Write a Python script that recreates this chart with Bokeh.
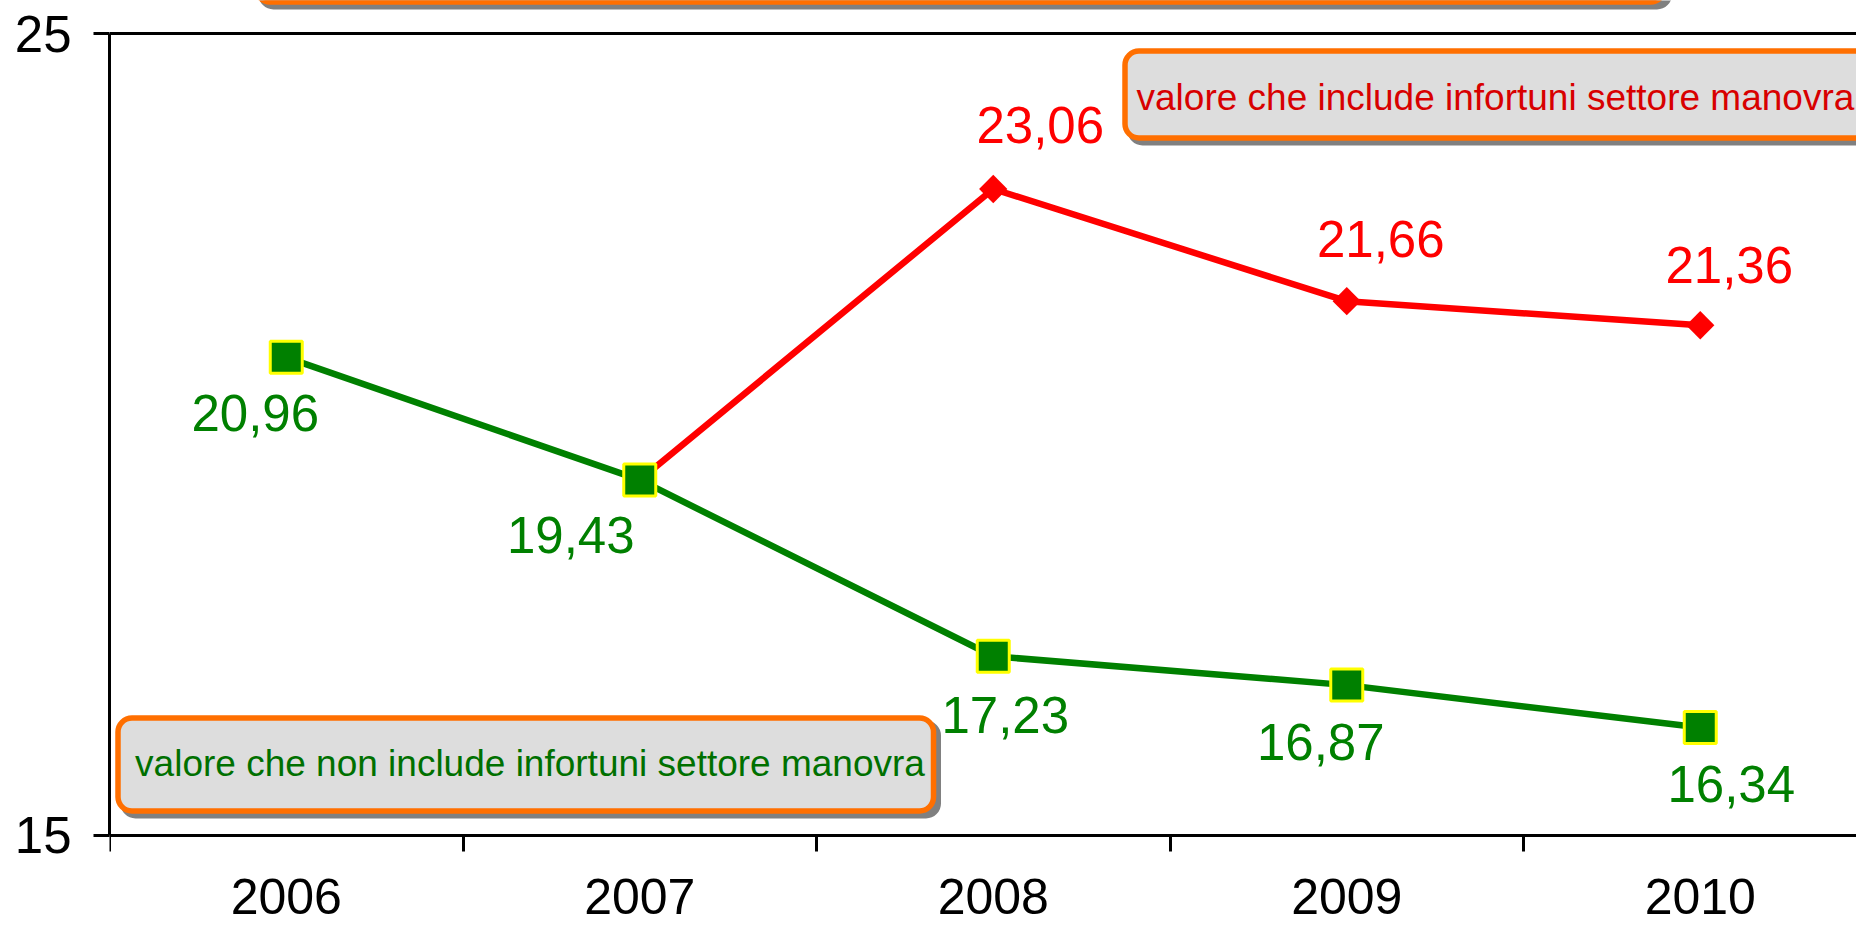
import math
from bokeh.plotting import figure
from bokeh.models import ColumnDataSource, Range1d, LinearAxis, FixedTicker, BoxAnnotation, Label, Span
from bokeh.core.properties import value
from bokeh.embed import file_html
from bokeh.resources import INLINE

# ---------------- data ----------------
years = [2006, 2007, 2008, 2009, 2010]
year_labels = ["2006", "2007", "2008", "2009", "2010"]
green_values = [20.96, 19.43, 17.23, 16.87, 16.34]      # non include settore manovra
red_years = [2007, 2008, 2009, 2010]
red_values = [19.43, 23.06, 21.66, 21.36]               # include settore manovra
y_ticks = [15, 25]
green_box_text = "valore che non include infortuni settore manovra"
red_box_text = "valore che include infortuni settore manovra"

# label offsets in screen pixels (style)
green_dx = [-31, -69, 12, -26, 31]
green_dy = [56, 55, 59, 57, 56]
red_dx = [47, 34, 29]
red_dy = [-64, -62, -60]


def fmt(v):
    return f"{v:.2f}".replace(".", ",")


# ---------------- layout ----------------
FONT = "Liberation Sans"
W, H = 1856, 926
LEFT, TOP = 109, 33          # position of (x_start, 25) inside the figure
PX_X, PX_Y = 353.5, 80.15    # pixels per data unit
x_start = years[0] - 0.5
x_end = x_start + (W - LEFT) / PX_X
y_max = 25
y_range_top = y_max + TOP / PX_Y
y_bottom = y_max - (H - TOP) / PX_Y


def FX(px):  # figure pixel -> data x
    return x_start + (px - LEFT) / PX_X


def FY(py):  # figure pixel -> data y
    return y_max - (py - TOP) / PX_Y


p = figure(width=W, height=H, x_range=Range1d(x_start, x_end),
           y_range=Range1d(y_bottom, y_range_top),
           x_axis_location=None, y_axis_location="left",
           toolbar_location=None, output_backend="svg",
           min_border_left=LEFT, min_border_top=0, min_border_bottom=0, min_border_right=0,
           background_fill_color="white", border_fill_color="white", outline_line_color=None)
p.grid.grid_line_color = None

# y axis
ya = p.yaxis[0]
ya.ticker = FixedTicker(ticks=y_ticks)
ya.bounds = (15, 25)
ya.major_tick_out = 16
ya.major_tick_in = 0
ya.minor_tick_out = 0
ya.minor_tick_in = 0
ya.axis_line_width = 3
ya.major_tick_line_width = 3
ya.major_label_text_font = FONT
ya.major_label_text_font_size = "51px"
ya.major_label_text_color = "black"
ya.major_label_standoff = 22

# x axis: year labels at centres, boundary ticks as minor ticks
bounds_ticks = [y - 0.5 for y in years] + [years[-1] + 0.5]
ax = LinearAxis(fixed_location=15, ticker=FixedTicker(ticks=years, minor_ticks=bounds_ticks),
                major_label_overrides={y: l for y, l in zip(years, year_labels)},
                major_tick_out=0, major_tick_in=0, minor_tick_out=16, minor_tick_in=0,
                minor_tick_line_width=3, minor_tick_line_color="black",
                axis_line_width=3,
                major_label_text_font=FONT, major_label_text_font_size="50px",
                major_label_text_color="black", major_label_standoff=28)
p.add_layout(ax, "below")

# top line of the plot area
p.add_layout(Span(location=y_max, dimension="width", line_color="black", line_width=3))


# ---------------- annotation boxes ----------------
def add_box(l, r, t, b, fill, radius=15):
    sh = 5
    p.add_layout(BoxAnnotation(left=FX(l - 2.5 + sh), right=FX(r + 2.5 + sh),
                               top=FY(t - 2.5 + sh), bottom=FY(b + 2.5 + sh),
                               fill_color="#808080", fill_alpha=1, line_color=None,
                               border_radius=radius, level="underlay"))
    p.add_layout(BoxAnnotation(left=FX(l), right=FX(r), top=FY(t), bottom=FY(b),
                               fill_color=fill, fill_alpha=1, line_color="#FF6F00",
                               line_alpha=1, line_width=5.5, border_radius=radius - 1,
                               level="underlay"))


def add_text(text, tx, ty, align, color):
    p.add_layout(Label(x=FX(tx), y=FY(ty), text=text, text_align=align, text_baseline="middle",
                       text_font=FONT, text_font_size="37px", text_color=color))


# title box (mostly above the visible area)
add_box(255.5, 1664, -60, 1.5, "#FF6F00")

add_box(117.5, 933, 717.5, 810.5, "#DDDDDD")
add_text(green_box_text, 529.5, 763, "center", "#007000")
add_box(1124.5, 1990, 50.5, 137.5, "#DDDDDD")
add_text(red_box_text, 1136, 97, "left", "#D80000")

# ---------------- series ----------------
p.line(years, green_values, line_color="#008000", line_width=6.5)
p.line(red_years, red_values, line_color="#FF0000", line_width=6.5)
p.scatter(red_years[1:], red_values[1:], marker="square", angle=math.pi / 4, size=20,
          fill_color="#FF0000", line_color=None)
p.scatter(years, green_values, marker="square", size=32, fill_color="#008000",
          line_color="#FFFF00", line_width=3)

src_g = ColumnDataSource(dict(x=years, y=green_values, t=[fmt(v) for v in green_values],
                              dx=green_dx, dy=green_dy))
p.text(x="x", y="y", text="t", source=src_g, x_offset="dx", y_offset="dy",
       text_align="center", text_baseline="middle", text_font=value(FONT),
       text_font_size="51px", text_color="#008000")

src_r = ColumnDataSource(dict(x=red_years[1:], y=red_values[1:], t=[fmt(v) for v in red_values[1:]],
                              dx=red_dx, dy=red_dy))
p.text(x="x", y="y", text="t", source=src_r, x_offset="dx", y_offset="dy",
       text_align="center", text_baseline="middle", text_font=value(FONT),
       text_font_size="51px", text_color="#FF0000")

open("out.html", "w").write(file_html(p, INLINE))
